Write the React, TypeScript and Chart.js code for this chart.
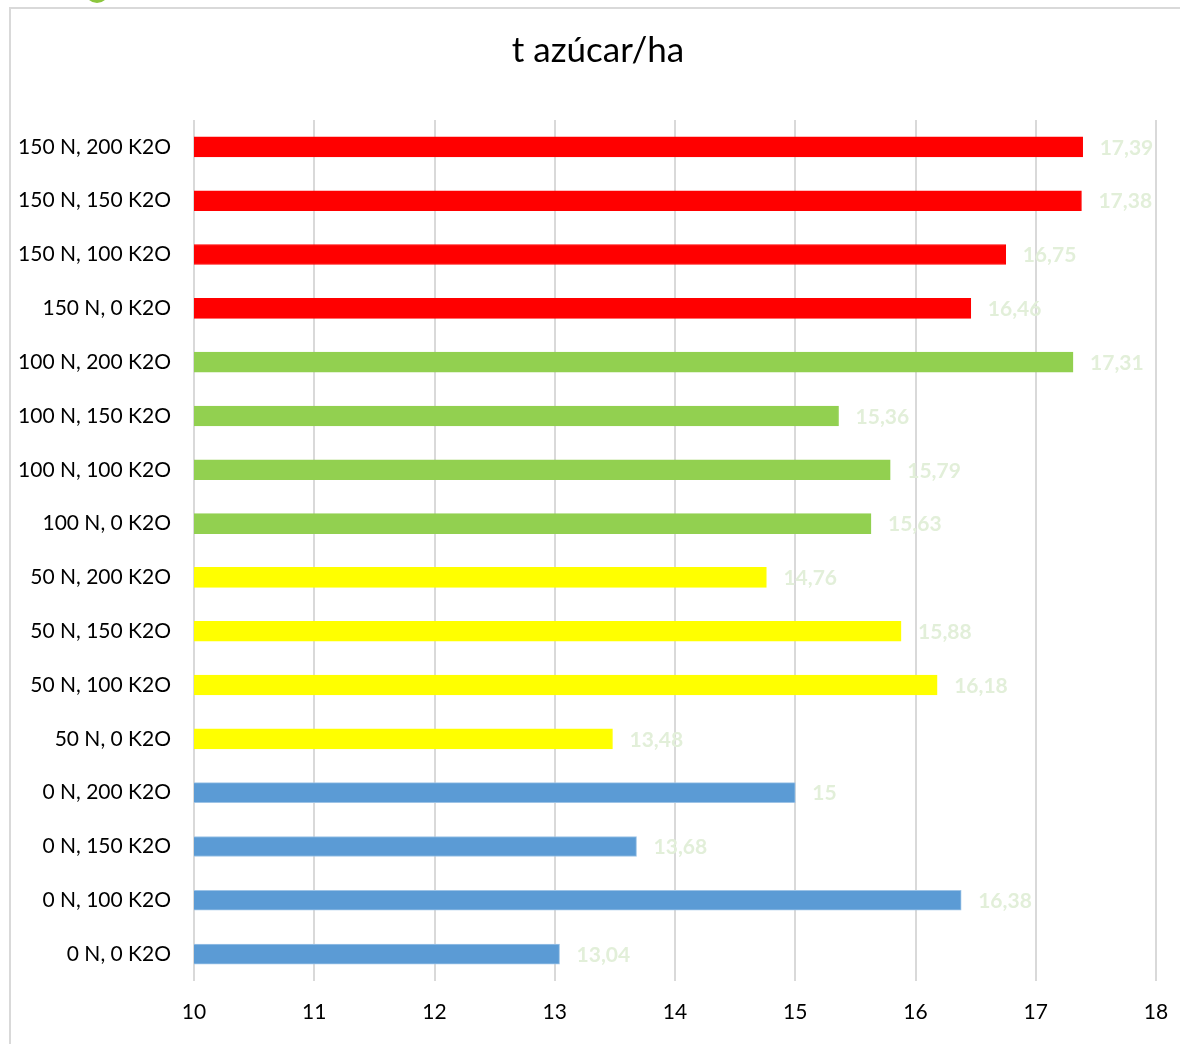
import { useEffect, useRef } from "react";
import { Chart, registerables } from "chart.js";

Chart.register(...registerables);

// Treatments, listed from the bottom bar to the top bar
const categories = [
  "0 N, 0 K2O",
  "0 N, 100 K2O",
  "0 N, 150 K2O",
  "0 N, 200 K2O",
  "50 N, 0 K2O",
  "50 N, 100 K2O",
  "50 N, 150 K2O",
  "50 N, 200 K2O",
  "100 N, 0 K2O",
  "100 N, 100 K2O",
  "100 N, 150 K2O",
  "100 N, 200 K2O",
  "150 N, 0 K2O",
  "150 N, 100 K2O",
  "150 N, 150 K2O",
  "150 N, 200 K2O",
];

// Sugar yield (t/ha) per treatment
const sugarYield = [
  13.04, 16.38, 13.68, 15, 13.48, 16.18, 15.88, 14.76, 15.63, 15.79, 15.36,
  17.31, 16.46, 16.75, 17.38, 17.39,
];

// Nitrogen dose group of each treatment, used for the bar colour
const nitrogenGroup = [0, 0, 0, 0, 50, 50, 50, 50, 100, 100, 100, 100, 150, 150, 150, 150];

const groupColors: Record<number, string> = {
  0: "#5b9bd5",
  50: "#ffff00",
  100: "#92d050",
  150: "#ff0000",
};
const groupBorders: Record<number, string> = {
  0: "#9dc3e6",
  50: "#ffff00",
  100: "#92d050",
  150: "#ff0000",
};

const xMin = 10;
const xMax = 18;
const titleText = "t azúcar/ha";
const FONT = "Lato, 'Open Sans', sans-serif";

const formatValue = (v: number) => String(v).replace(".", ",");

// Frame, corner badge and title drawn behind the chart
const backdropPlugin = {
  id: "backdrop",
  beforeDraw(chart: any) {
    const ctx = chart.ctx as CanvasRenderingContext2D;
    ctx.save();
    ctx.fillStyle = "#ffffff";
    ctx.fillRect(0, 0, chart.width, chart.height);
    // badge peeking over the top edge
    ctx.fillStyle = "#8cc63e";
    ctx.beginPath();
    ctx.arc(97, -9, 12, 0, Math.PI * 2);
    ctx.fill();
    // frame
    ctx.strokeStyle = "#d9d9d9";
    ctx.lineWidth = 2;
    ctx.beginPath();
    ctx.moveTo(10, chart.height + 2);
    ctx.lineTo(10, 8);
    ctx.lineTo(chart.width + 2, 8);
    ctx.stroke();
    // title
    ctx.fillStyle = "#000000";
    ctx.font = `35px ${FONT}`;
    ctx.textAlign = "center";
    ctx.textBaseline = "middle";
    ctx.fillText(titleText, 598, 51);
    ctx.restore();
  },
};

// Value labels to the right of each bar
const valueLabelPlugin = {
  id: "valueLabels",
  afterDatasetsDraw(chart: any) {
    const ctx = chart.ctx as CanvasRenderingContext2D;
    const meta = chart.getDatasetMeta(0);
    const data = chart.data.datasets[0].data as number[];
    ctx.save();
    ctx.fillStyle = "#e2efd9";
    ctx.font = `bold 21px ${FONT}`;
    ctx.textAlign = "left";
    ctx.textBaseline = "middle";
    meta.data.forEach((el: any, i: number) => {
      ctx.fillText(formatValue(data[i]), el.x + 17, el.y + 1);
    });
    ctx.restore();
  },
};

export default function App() {
  const canvasRef = useRef<HTMLCanvasElement | null>(null);

  useEffect(() => {
    if (!canvasRef.current) return;
    const chart = new Chart(canvasRef.current, {
      type: "bar",
      data: {
        labels: categories,
        datasets: [
          {
            data: sugarYield,
            backgroundColor: nitrogenGroup.map((g) => groupColors[g]),
            borderColor: nitrogenGroup.map((g) => groupBorders[g]),
            borderWidth: 1,
            borderSkipped: false,
            barThickness: 20,
          },
        ],
      },
      options: {
        indexAxis: "y",
        animation: false,
        responsive: false,
        maintainAspectRatio: false,
        layout: { padding: { left: 0, top: 120, right: 24, bottom: 0 } },
        plugins: {
          legend: { display: false },
          title: { display: false },
          tooltip: { enabled: false },
        },
        scales: {
          x: {
            min: xMin,
            max: xMax,
            ticks: {
              stepSize: 1,
              color: "#000000",
              font: { family: FONT, size: 21 },
              padding: 19,
            },
            grid: {
              color: "#d9d9d9",
              lineWidth: 2,
              drawTicks: false,
            },
            border: { display: false },
            afterFit: (scale: any) => {
              scale.height = 63;
              scale.paddingLeft = 0;
              scale.paddingRight = 0;
            },
          },
          y: {
            reverse: true,
            ticks: {
              color: "#000000",
              font: { family: FONT, size: 21 },
              padding: 23,
            },
            grid: { display: false, drawTicks: false },
            border: { display: false },
            afterFit: (scale: any) => {
              scale.width = 194;
              scale.paddingTop = 0;
              scale.paddingBottom = 0;
            },
          },
        },
      },
      plugins: [backdropPlugin, valueLabelPlugin],
    });
    return () => chart.destroy();
  }, []);

  return (
    <div style={{ position: "absolute", left: 0, top: 0, width: 1180, height: 1044 }}>
      <canvas ref={canvasRef} width={1180} height={1044} style={{ display: "block" }} />
    </div>
  );
}
